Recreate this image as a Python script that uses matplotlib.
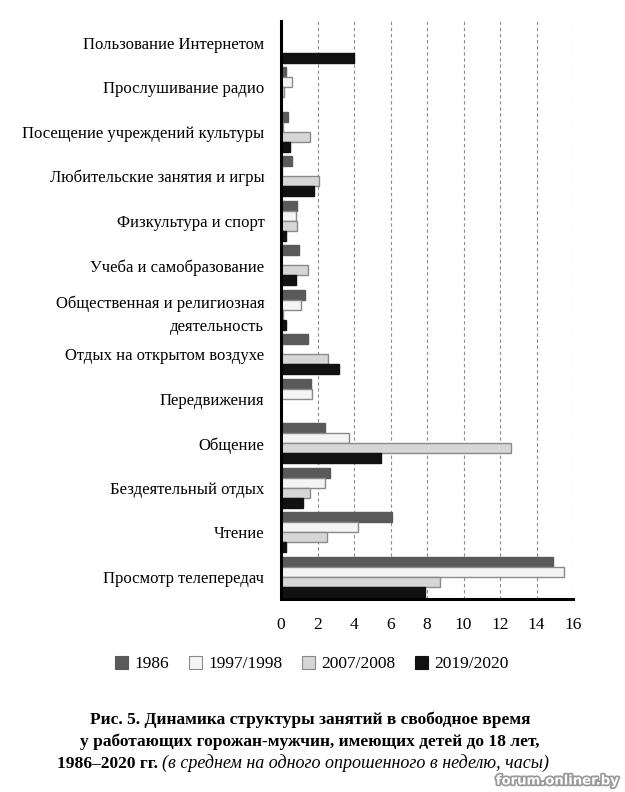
import matplotlib.pyplot as plt
import matplotlib.patheffects as pe
from matplotlib.patches import Patch
import numpy as np

plt.rcParams['font.family'] = ['Liberation Serif', 'DejaVu Serif']

categories = ['Пользование Интернетом', 'Прослушивание радио',
              'Посещение учреждений культуры', 'Любительские занятия и игры',
              'Физкультура и спорт', 'Учеба и самобразование',
              'Общественная и религиозная\nдеятельность',
              'Отдых на открытом воздухе', 'Передвижения', 'Общение',
              'Бездеятельный отдых', 'Чтение', 'Просмотр телепередач']
years = ['1986', '1997/1998', '2007/2008', '2019/2020']
v1986 = [0, 0.25, 0.38, 0.6, 0.9, 1.0, 1.3, 1.5, 1.65, 2.4, 2.7, 6.1, 14.9]
v1997 = [0, 0.58, 0.1, 0.05, 0.8, 0, 1.1, 0.05, 1.7, 3.7, 2.4, 4.2, 15.5]
v2007 = [0, 0.18, 1.6, 2.1, 0.9, 1.5, 0.1, 2.6, 0, 12.6, 1.6, 2.5, 8.7]
v2019 = [4.0, 0, 0.5, 1.8, 0.3, 0.8, 0.3, 3.2, 0, 5.5, 1.2, 0.3, 7.9]

series = [v1986, v1997, v2007, v2019]
fills = ['#5a5a5a', '#f4f4f4', '#d6d6d6', '#111111']
edges = ['#5a5a5a', '#8a8a8a', '#8a8a8a', '#111111']

fig = plt.figure(figsize=(6.25, 7.92), dpi=100)
ax = fig.add_axes([281 / 625, 1 - 599 / 792, 292 / 625, 578.5 / 792])

y = np.arange(len(categories))
h = 0.225
for k, vals in enumerate(series):
    ax.barh(y + (k - 1.5) * h, vals, height=h, color=fills[k],
            edgecolor=edges[k], linewidth=1.0, zorder=3)

ax.set_xlim(0, 16)
ax.set_ylim(len(categories) - 0.5, -0.5)
ax.set_xticks(range(0, 17, 2))
ax.set_yticks(y)
ax.set_yticklabels(categories, fontsize=12, linespacing=1.6)
ax.tick_params(axis='y', length=0, pad=12)
ax.tick_params(axis='x', length=0, pad=13, labelsize=12.5)
for lab in ax.get_yticklabels():
    lab.set_horizontalalignment('right')

ax.grid(axis='x', color='#8c8c8c', linestyle=(0, (3, 2.5)), linewidth=0.8, zorder=0)
for s in ['top', 'right']:
    ax.spines[s].set_visible(False)
ax.spines['left'].set_linewidth(2.2)
ax.spines['bottom'].set_linewidth(2.2)
ax.spines['left'].set_zorder(4)

handles = [Patch(facecolor=fills[k], edgecolor=edges[k], linewidth=0.8) for k in range(4)]
fig.legend(handles, years, loc='center', bbox_to_anchor=(312 / 625, 1 - 664 / 792),
           ncol=4, frameon=False, fontsize=12.5, handlelength=0.75, handleheight=0.75,
           handletextpad=0.35, columnspacing=1.15)

fig.text(310 / 625, 1 - 720 / 792,
         'Рис. 5. Динамика структуры занятий в свободное время',
         ha='center', va='center', fontsize=12.5, fontweight='bold')
fig.text(310 / 625, 1 - 742 / 792,
         'у работающих горожан-мужчин, имеющих детей до 18 лет,',
         ha='center', va='center', fontsize=12.5, fontweight='bold')
t1 = fig.text(57 / 625, 1 - 764 / 792, '1986\u20132020 гг. ',
              ha='left', va='center', fontsize=12.5, fontweight='bold')
ax.annotate('(в среднем на одного опрошенного в неделю, часы)', xy=(1, 0),
            xycoords=t1, xytext=(0, 0), textcoords='offset points',
            ha='left', va='bottom', fontsize=13, fontstyle='italic',
            annotation_clip=False)

fig.text(558 / 625, 1 - 781 / 792, 'forum.onliner.by', ha='center', va='center',
         fontsize=9.5, fontweight='bold', color='white', family='DejaVu Sans',
         path_effects=[pe.withStroke(linewidth=2.5, foreground='#9a9a9a')])

fig.savefig('out.png', dpi=100)
